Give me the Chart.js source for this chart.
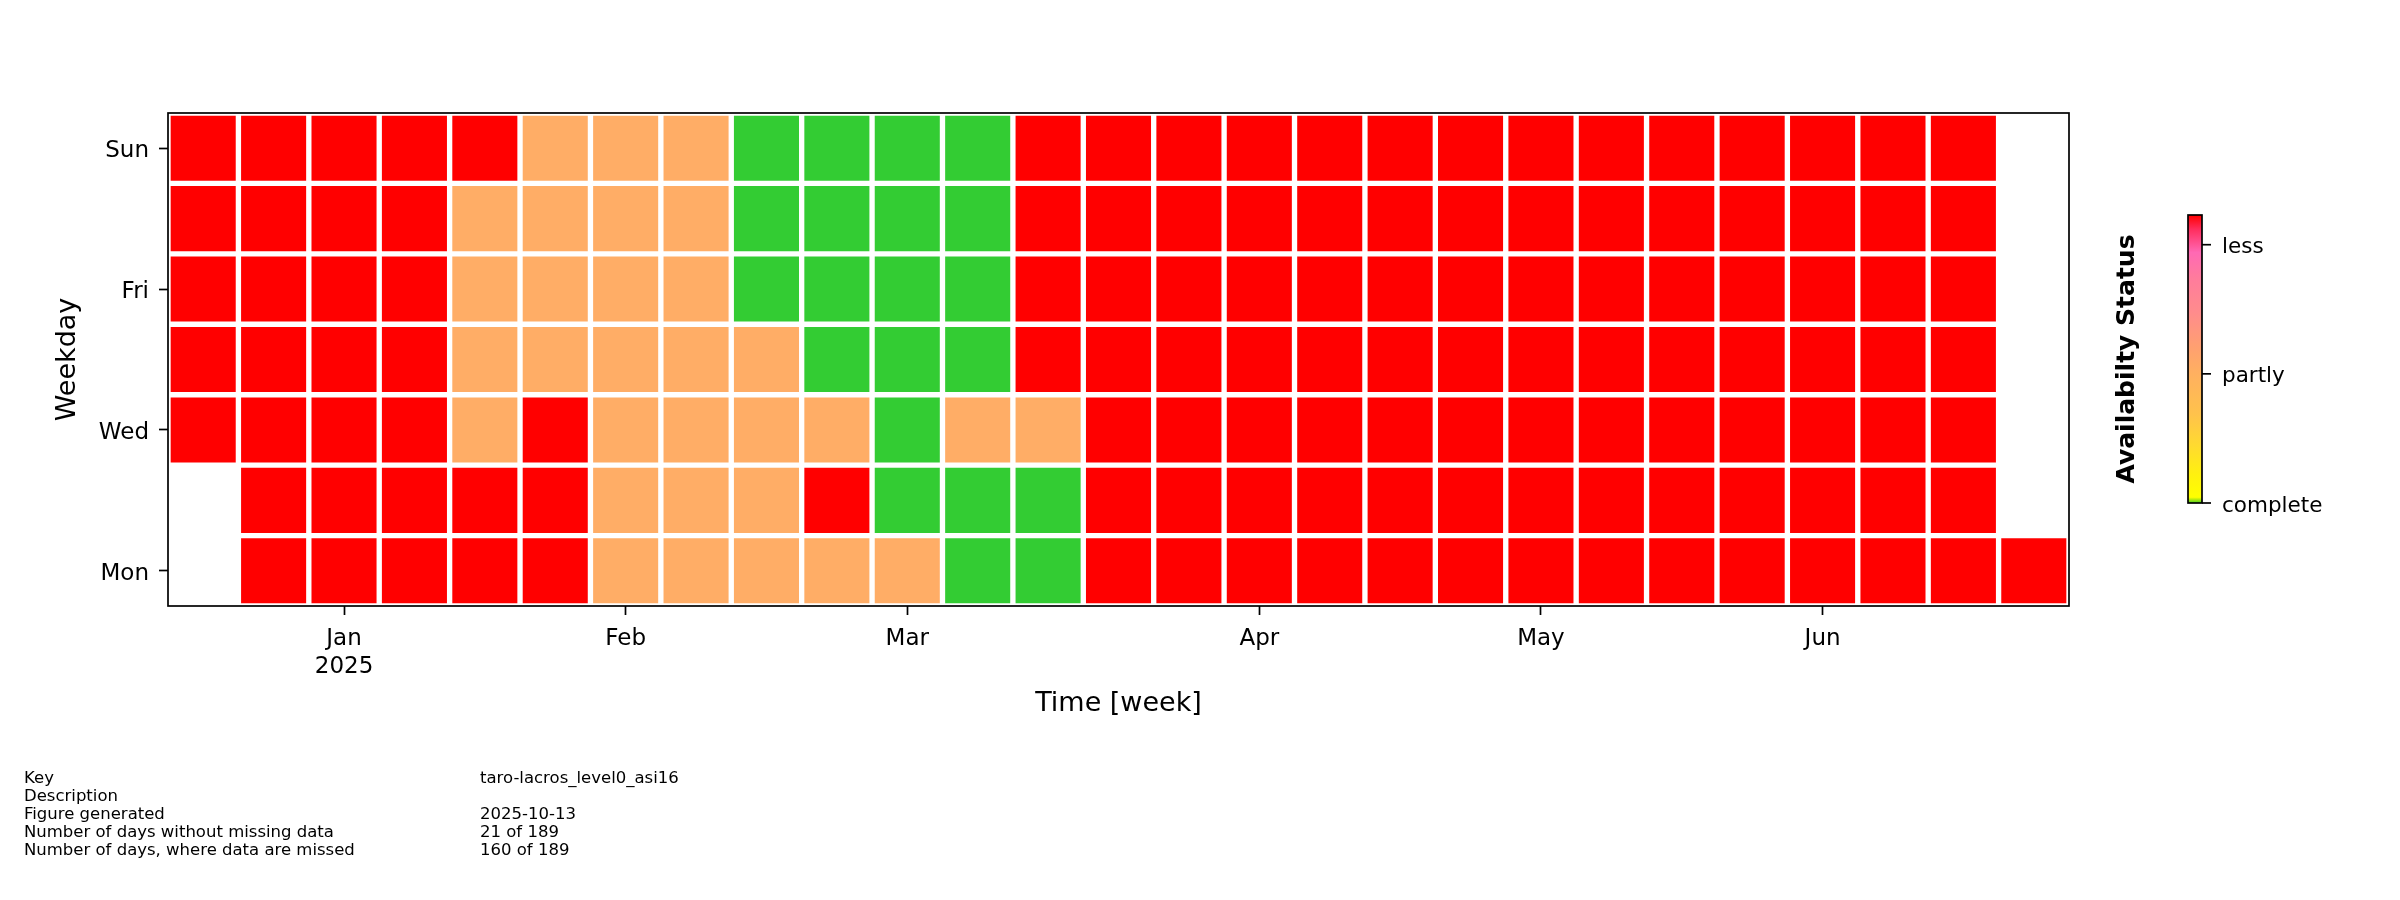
<!DOCTYPE html>
<html>
<head>
<meta charset="utf-8">
<title>Availability</title>
<script src="https://cdn.jsdelivr.net/npm/chart.js@4.4.0/dist/chart.umd.min.js"></script>
<style>
  html, body { margin: 0; padding: 0; background: #fff; }
</style>
</head>
<body>
<canvas id="avail" width="2400" height="900"></canvas>
<script>
// weeks (monday of each week) and weekdays
const weekStarts = [
  "2024-12-16", "2024-12-23", "2024-12-30", "2025-01-06", "2025-01-13", "2025-01-20",
  "2025-01-27", "2025-02-03", "2025-02-10", "2025-02-17", "2025-02-24", "2025-03-03",
  "2025-03-10", "2025-03-17", "2025-03-24", "2025-03-31", "2025-04-07", "2025-04-14",
  "2025-04-21", "2025-04-28", "2025-05-05", "2025-05-12", "2025-05-19", "2025-05-26",
  "2025-06-02", "2025-06-09", "2025-06-16"
];
const weekdays = ["Mon", "Tue", "Wed", "Thu", "Fri", "Sat", "Sun"];
const weekdayTicks = ["Mon", "Wed", "Fri", "Sun"];

// status per day: 0 = complete, 1 = partly, 2 = less, null = no day
const monStatus = [null, 2, 2, 2, 2, 2, 1, 1, 1, 1, 1, 0, 0, 2, 2, 2, 2, 2, 2, 2, 2, 2, 2, 2, 2, 2, 2];
const tueStatus = [null, 2, 2, 2, 2, 2, 1, 1, 1, 2, 0, 0, 0, 2, 2, 2, 2, 2, 2, 2, 2, 2, 2, 2, 2, 2, null];
const wedStatus = [2, 2, 2, 2, 1, 2, 1, 1, 1, 1, 0, 1, 1, 2, 2, 2, 2, 2, 2, 2, 2, 2, 2, 2, 2, 2, null];
const thuStatus = [2, 2, 2, 2, 1, 1, 1, 1, 1, 0, 0, 0, 2, 2, 2, 2, 2, 2, 2, 2, 2, 2, 2, 2, 2, 2, null];
const friStatus = [2, 2, 2, 2, 1, 1, 1, 1, 0, 0, 0, 0, 2, 2, 2, 2, 2, 2, 2, 2, 2, 2, 2, 2, 2, 2, null];
const satStatus = [2, 2, 2, 2, 1, 1, 1, 1, 0, 0, 0, 0, 2, 2, 2, 2, 2, 2, 2, 2, 2, 2, 2, 2, 2, 2, null];
const sunStatus = [2, 2, 2, 2, 2, 1, 1, 1, 0, 0, 0, 0, 2, 2, 2, 2, 2, 2, 2, 2, 2, 2, 2, 2, 2, 2, null];
const rows = [monStatus, tueStatus, wedStatus, thuStatus, friStatus, satStatus, sunStatus];

// month ticks on the time axis
const monthLabels = ["Jan", "Feb", "Mar", "Apr", "May", "Jun"];
const monthStarts = ["2025-01-01", "2025-02-01", "2025-03-01", "2025-04-01", "2025-05-01", "2025-06-01"];
const yearLabel = "2025";

// colorbar
const statusLabels = ["complete", "partly", "less"];
const statusValues = [0, 1, 2];

// footer
const footerKeys = ["Key", "Description", "Figure generated", "Number of days without missing data", "Number of days, where data are missed"];
const footerValues = ["taro-lacros_level0_asi16", "", "2025-10-13", "21 of 189", "160 of 189"];

const cellColors = ["#33cc33", "#ffad66", "#ff0000"];
const FONT = "'DejaVu Sans', sans-serif";

// week index of a date
function weekIndex(date) {
  let idx = 0;
  weekStarts.forEach((w, i) => { if (w <= date) idx = i; });
  return idx;
}
const monthTickPos = monthStarts.map(weekIndex);

const datasets = weekdays.map((day, d) => {
  const data = [];
  const colors = [];
  rows[d].forEach((s, i) => {
    if (s === null) return;
    data.push({ x: i, y: [d - 0.5, d + 0.5] });
    colors.push(cellColors[s]);
  });
  return {
    label: day,
    data: data,
    backgroundColor: colors,
    borderColor: "#ffffff",
    borderWidth: 3,
    borderSkipped: false,
    grouped: false,
    barPercentage: 1,
    categoryPercentage: 1,
  };
});

const extras = {
  id: "extras",
  afterDraw(chart) {
    const { ctx, chartArea: a } = chart;
    ctx.save();
    // axes frame
    ctx.strokeStyle = "#000";
    ctx.lineWidth = 1.7;
    ctx.strokeRect(a.left, a.top, a.right - a.left, a.bottom - a.top);

    // colorbar
    const cbX = 2188, cbW = 14, cbTop = 215, cbBot = 503, vmax = 2.23;
    const g = ctx.createLinearGradient(0, cbBot, 0, cbTop);
    g.addColorStop(0.0, "#44cc22");
    g.addColorStop(0.02, "#ffff00");
    g.addColorStop(0.1, "#fff010");
    g.addColorStop(0.2, "#ffda30");
    g.addColorStop(0.31, "#ffc24c");
    g.addColorStop(0.45, "#ffb060");
    g.addColorStop(0.54, "#ffa070");
    g.addColorStop(0.66, "#ff8c8c");
    g.addColorStop(0.78, "#ff7c9c");
    g.addColorStop(0.87, "#ff69b4");
    g.addColorStop(0.95, "#ff2e5e");
    g.addColorStop(1.0, "#ff0000");
    ctx.fillStyle = g;
    ctx.fillRect(cbX, cbTop, cbW, cbBot - cbTop);
    ctx.strokeRect(cbX, cbTop, cbW, cbBot - cbTop);

    ctx.fillStyle = "#000";
    ctx.font = "21.5px " + FONT;
    ctx.textAlign = "left";
    ctx.textBaseline = "middle";
    statusValues.forEach((v, i) => {
      const y = cbBot - (v / vmax) * (cbBot - cbTop);
      ctx.beginPath();
      ctx.moveTo(cbX + cbW, y);
      ctx.lineTo(cbX + cbW + 9, y);
      ctx.stroke();
      ctx.fillText(statusLabels[i], 2222, y + 3);
    });

    ctx.save();
    ctx.translate(2127, (cbTop + cbBot) / 2);
    ctx.rotate(-Math.PI / 2);
    ctx.textAlign = "center";
    ctx.font = "bold 25px " + FONT;
    ctx.fillText("Availabilty Status", 0, 0);
    ctx.restore();

    // footer
    ctx.font = "16.5px " + FONT;
    ctx.textBaseline = "alphabetic";
    footerKeys.forEach((k, i) => {
      const y = 783 + i * 18;
      ctx.fillText(k, 24, y);
      ctx.fillText(footerValues[i], 480, y);
    });
    ctx.restore();
  },
};

new Chart(document.getElementById("avail"), {
  type: "bar",
  data: { datasets: datasets },
  options: {
    responsive: false,
    devicePixelRatio: 1,
    animation: false,
    events: [],
    layout: { padding: { left: 48, right: 331, top: 113, bottom: 179 } },
    plugins: { legend: { display: false }, tooltip: { enabled: false } },
    scales: {
      x: {
        type: "linear",
        min: -0.5,
        max: 26.5,
        offset: false,
        afterBuildTicks: (scale) => { scale.ticks = monthTickPos.map(v => ({ value: v })); },
        afterFit: (scale) => { scale.height = 115; },
        ticks: {
          autoSkip: false,
          maxRotation: 0,
          color: "#000",
          padding: 10,
          font: { family: FONT, size: 23, lineHeight: 1.22 },
          callback: (value) => {
            const i = monthTickPos.indexOf(value);
            if (i < 0) return "";
            return i === 0 ? [monthLabels[i], yearLabel] : monthLabels[i];
          },
        },
        grid: { offset: false, drawOnChartArea: false, drawTicks: true, tickLength: 9, tickColor: "#000", tickWidth: 1.7 },
        border: { display: false },
        title: { display: true, text: "Time [week]", color: "#000", font: { family: FONT, size: 27, lineHeight: 1.2 }, padding: { top: 4, bottom: 1 } },
      },
      y: {
        type: "linear",
        min: -0.5,
        max: 6.5,
        afterBuildTicks: (scale) => { scale.ticks = weekdayTicks.map(d => ({ value: weekdays.indexOf(d) })); },
        afterFit: (scale) => { scale.width = 120; },
        ticks: {
          autoSkip: false,
          color: "#000",
          padding: 10,
          labelOffset: 3,
          font: { family: FONT, size: 23 },
          callback: (value) => weekdays[value] || "",
        },
        grid: { offset: false, drawOnChartArea: false, drawTicks: true, tickLength: 9, tickColor: "#000", tickWidth: 1.7 },
        border: { display: false },
        title: { display: true, text: "Weekday", color: "#000", font: { family: FONT, size: 27, lineHeight: 1.2 }, padding: { top: 4, bottom: 4 } },
      },
    },
  },
  plugins: [extras],
});
</script>
</body>
</html>
